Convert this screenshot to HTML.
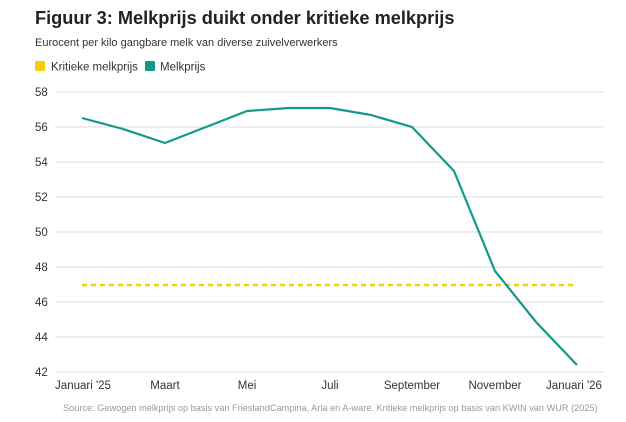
<!DOCTYPE html>
<html><head><style>
body{margin:0;background:#fff;font-family:"Liberation Sans",sans-serif;}
</style></head><body>
<svg width="626" height="417" xmlns="http://www.w3.org/2000/svg" font-family="Liberation Sans, sans-serif">
<text x="35" y="24" font-size="18.2" font-weight="bold" fill="#222">Figuur 3: Melkprijs duikt onder kritieke melkprijs</text>
<text x="35" y="46" font-size="11" fill="#333">Eurocent per kilo gangbare melk van diverse zuivelverwerkers</text>
<rect x="35" y="61" width="10" height="10" rx="1.5" fill="#f5cf00"/>
<text x="51" y="70.5" font-size="11.5" fill="#333">Kritieke melkprijs</text>
<rect x="145" y="61" width="10" height="10" rx="1.5" fill="#13998a"/>
<text x="160" y="70.5" font-size="11.5" fill="#333">Melkprijs</text>
<g stroke="#ddd" stroke-width="1">
<line x1="55" x2="603" y1="92" y2="92"/><line x1="55" x2="603" y1="127" y2="127"/><line x1="55" x2="603" y1="162" y2="162"/><line x1="55" x2="603" y1="197" y2="197"/><line x1="55" x2="603" y1="232" y2="232"/><line x1="55" x2="603" y1="267" y2="267"/><line x1="55" x2="603" y1="302" y2="302"/><line x1="55" x2="603" y1="337" y2="337"/><line x1="55" x2="603" y1="372" y2="372"/>
</g>
<g font-size="11.5" fill="#333">
<text x="35" y="96">58</text><text x="35" y="131">56</text><text x="35" y="166">54</text><text x="35" y="201">52</text><text x="35" y="236">50</text><text x="35" y="271">48</text><text x="35" y="306">46</text><text x="35" y="341">44</text><text x="35" y="376">42</text>
</g>
<g font-size="11.5" fill="#333" text-anchor="middle">
<text x="83" y="389">Januari '25</text><text x="165" y="389">Maart</text><text x="247" y="389">Mei</text><text x="330" y="389">Juli</text><text x="412" y="389">September</text><text x="495" y="389">November</text><text x="574" y="389">Januari '26</text>
</g>
<line x1="82" x2="577" y1="285" y2="285" stroke="#f5cf00" stroke-width="2.5" stroke-dasharray="5,4"/>
<polyline fill="none" stroke="#13998a" stroke-width="2.2" stroke-linejoin="round" points="82,118 123,129 165,143 206,127 247,111 289,108 330,108 371,115 412,127 454,171 495,271 536,322 577,365"/>
<text x="63" y="411" font-size="9.2" fill="#999">Source:  Gewogen melkprijs op basis van FrieslandCampina, Arla en A-ware. Kritieke melkprijs op basis van KWIN van WUR (2025)</text>
</svg>
</body></html>
